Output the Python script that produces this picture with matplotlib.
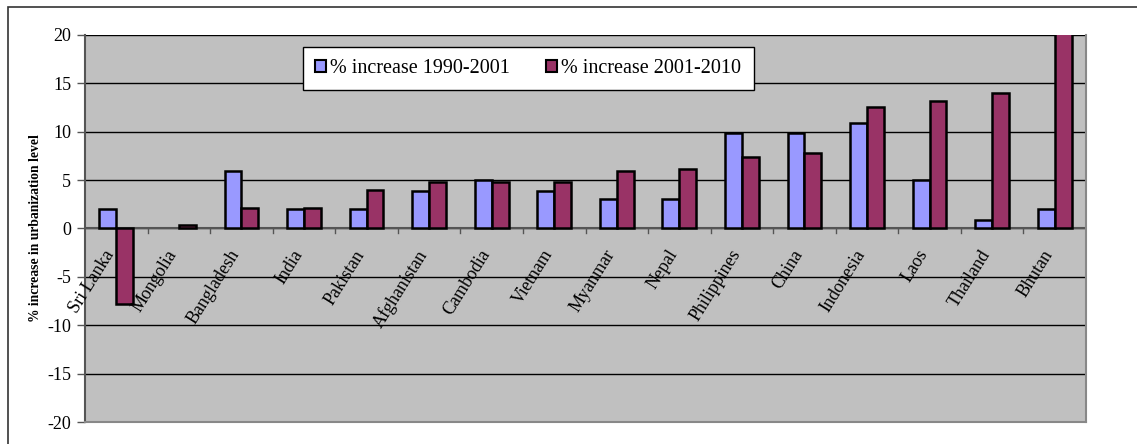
import matplotlib
matplotlib.use("Agg")
import matplotlib.pyplot as plt
import numpy as np
from matplotlib.patches import Rectangle

countries = ["Sri Lanka", "Mongolia", "Bangladesh", "India", "Pakistan",
             "Afghanistan", "Cambodia", "Vietnam", "Myanmar", "Nepal",
             "Philippines", "China", "Indonesia", "Laos", "Thailand", "Bhutan"]
inc_1990_2001 = [2.0, 0.0, 5.9, 2.0, 2.0, 3.9, 5.0, 3.9, 3.0, 3.0,
                 9.9, 9.9, 10.9, 5.0, 0.9, 2.0]
inc_2001_2010 = [-7.8, 0.4, 2.1, 2.1, 4.0, 4.8, 4.8, 4.8, 5.9, 6.1,
                 7.4, 7.8, 12.6, 13.2, 14.0, 21.0]
yticks = [-20, -15, -10, -5, 0, 5, 10, 15, 20]
legend_labels = ["% increase 1990-2001", "% increase 2001-2010"]

plt.rcParams["font.family"] = ["Liberation Serif", "DejaVu Serif"]

W, H = 1137, 444
fig = plt.figure(figsize=(W / 100, H / 100), dpi=100)

# outer chart border (only left and top edges fall inside the image)
fig.add_artist(Rectangle((8 / W, -0.1), 1.2, (H - 7) / H + 0.1,
                         transform=fig.transFigure, fill=False,
                         edgecolor="#333333", lw=1.2))

ax = fig.add_axes([85 / W, (H - 422) / H, 1001 / W, 387 / H])
ax.set_facecolor("#C0C0C0")

n = len(countries)
x = np.arange(n) + 0.5
bw = 0.27
blue = "#9999FF"
red = "#993366"
for series, off, col in [(inc_1990_2001, -bw / 2, blue),
                         (inc_2001_2010, bw / 2, red)]:
    lws = [1.8 if v != 0 else 0 for v in series]
    ax.bar(x + off, series, width=bw, color=col, edgecolor="black",
           linewidth=lws, zorder=3)

ax.set_xlim(0, n)
ax.set_ylim(-20, 20)
ax.set_yticks(yticks)
ax.set_yticklabels([str(v) for v in yticks], fontsize=13)
ax.tick_params(axis="y", direction="out", length=6, width=1,
               color="#555555", pad=4)
ax.yaxis.grid(True, color="black", lw=1, zorder=1)
ax.set_axisbelow(True)

# category axis drawn along zero
ax.set_xticks([])
ax.axhline(0, color="#555555", lw=1.5, zorder=2)
for b in range(1, n):
    ax.plot([b, b], [0, -0.45], color="#555555", lw=1, zorder=2,
            clip_on=False)
for xi, name in zip(x, countries):
    ax.text(xi - 0.2, -1.9, name, rotation=58, rotation_mode="anchor",
            ha="right", va="top", fontsize=13, zorder=4)

ax.spines["top"].set_visible(False)
ax.spines["left"].set_color("#555555")
ax.spines["left"].set_linewidth(1.5)
ax.spines["right"].set_color("#888888")
ax.spines["right"].set_linewidth(1.5)
ax.spines["bottom"].set_color("#888888")
ax.spines["bottom"].set_linewidth(1.5)

ax.set_ylabel("% increase in urbanization level", fontsize=9.8,
              fontweight="bold", labelpad=4)

handles = [Rectangle((0, 0), 1, 1, facecolor=blue, edgecolor="black", lw=1.5),
           Rectangle((0, 0), 1, 1, facecolor=red, edgecolor="black", lw=1.5)]
leg = ax.legend(handles, legend_labels, ncol=2, loc="upper left",
                bbox_to_anchor=((303 - 85) / 1001, (422 - 47) / 387),
                fontsize=14.5, frameon=True, fancybox=False,
                edgecolor="black", framealpha=1, handlelength=0.55,
                handleheight=0.55, handletextpad=0.2, columnspacing=1.8,
                borderpad=0.6, borderaxespad=0)
leg.get_frame().set_linewidth(1)
leg.set_zorder(5)

fig.savefig("out.png", dpi=100)
